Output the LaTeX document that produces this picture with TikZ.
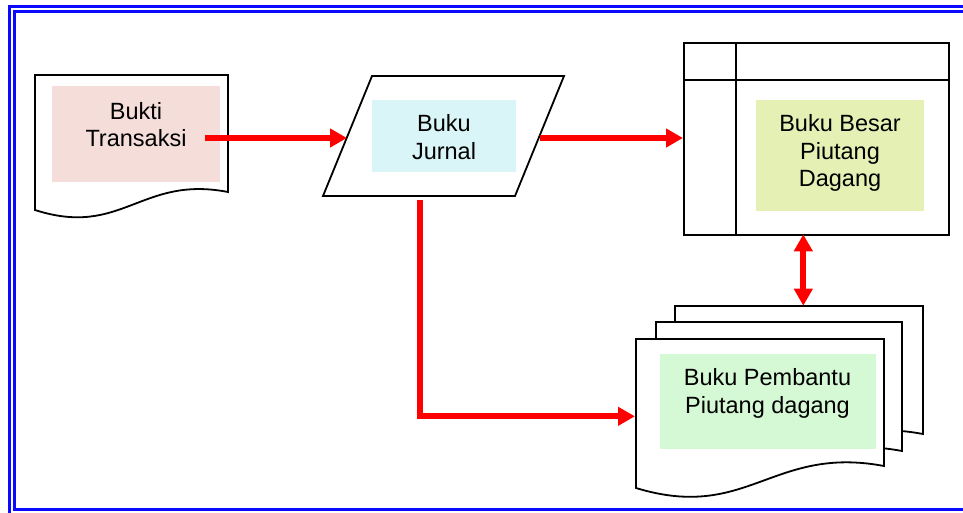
\documentclass[tikz,border=0pt]{standalone}
\usepackage{fontspec}
\setmainfont{Liberation Sans}
\usetikzlibrary{arrows.meta}
\definecolor{bordblue}{RGB}{10,10,255}
\definecolor{bpink}{RGB}{245,221,218}
\definecolor{bcyan}{RGB}{218,245,247}
\definecolor{bolive}{RGB}{229,240,181}
\definecolor{bgreen}{RGB}{213,248,213}
\begin{document}
\begin{tikzpicture}[x=1pt,y=-1pt,
  shapeline/.style={draw=black,line width=1.8pt,fill=white,line join=miter},
  flowarrow/.style={draw=red,line width=6pt,line join=miter,-{Triangle[length=17pt,width=18pt]}},
  twoarrow/.style={draw=red,line width=6pt,{Triangle[length=17pt,width=18pt]}-{Triangle[length=17pt,width=18pt]}},
  lbl/.style={font=\fontsize{23.5}{27.5}\selectfont,align=center,anchor=base,inner sep=0pt},
  panel/.style={draw=none,inner sep=0pt,anchor=north west},
  border/.style={draw=bordblue,line width=3pt},
]
\useasboundingbox (0,0) rectangle (963,512);
\clip (0,0) rectangle (963,512);
% double blue frame
\draw[border] (9.3,6) rectangle (990,530);
\draw[border] (14.2,11.5) rectangle (985,509.5);

% Bukti Transaksi (document)
\draw[shapeline] (35,75) -- (228,75) -- (228,192)
  .. controls (141,175) and (122,238) .. (35,210) -- cycle;
\node[panel,fill=bpink,minimum width=168pt,minimum height=96pt] (pbukti) at (52,86) {};
\node[lbl] (tbukti) at (136,146.7) {Bukti\\Transaksi};

% Buku Jurnal (parallelogram)
\draw[shapeline] (372,76) -- (564,76) -- (515,196) -- (323,196) -- cycle;
\node[panel,fill=bcyan,minimum width=144pt,minimum height=72pt] (pjurnal) at (372,100) {};
\node[lbl] (tjurnal) at (444,159) {Buku\\Jurnal};

% Buku Besar (ledger)
\node[panel,shapeline,minimum width=265pt,minimum height=192pt] (ledger) at (683,42) {};
\draw[black,line width=1.8pt] (736,42) -- (736,234);
\draw[black,line width=1.8pt] (683,80) -- (948,80);
\node[panel,fill=bolive,minimum width=168pt,minimum height=111pt] (pbesar) at (756,100) {};
\node[lbl] (tbesar) at (840,186.7) {Buku Besar\\Piutang\\Dagang};

% Buku Pembantu (stacked documents)
\draw[shapeline] (675,306) -- (923,306) -- (923,434)
  .. controls (811.4,413) and (786.6,490) .. (675,456) -- cycle;
\draw[shapeline] (656,322) -- (902,322) -- (902,451)
  .. controls (791.3,430) and (766.7,507) .. (656,473) -- cycle;
\draw[shapeline] (636,339) -- (884,339) -- (884,466)
  .. controls (772.4,445) and (747.6,522) .. (636,488) -- cycle;
\node[panel,fill=bgreen,minimum width=216pt,minimum height=95pt] (ppembantu) at (660,354) {};
\node[lbl] (tpembantu) at (767.5,413.3) {Buku Pembantu\\Piutang dagang};

% connector end points
\coordinate (bOut) at (205,138);
\coordinate (jIn) at (347,138);
\coordinate (jOut) at (540,138);
\coordinate (lIn) at (683,138);
\coordinate (jDown) at (419.7,200);
\coordinate (pIn) at (635,416.3);
\coordinate (lDown) at (803.3,234.3);
\coordinate (pTop) at (803.3,305.7);

\draw[flowarrow] (bOut) -- (jIn);
\draw[flowarrow] (jOut) -- (lIn);
\draw[flowarrow] (jDown) |- (pIn);
\draw[twoarrow] (lDown) -- (pTop);
\end{tikzpicture}
\end{document}
